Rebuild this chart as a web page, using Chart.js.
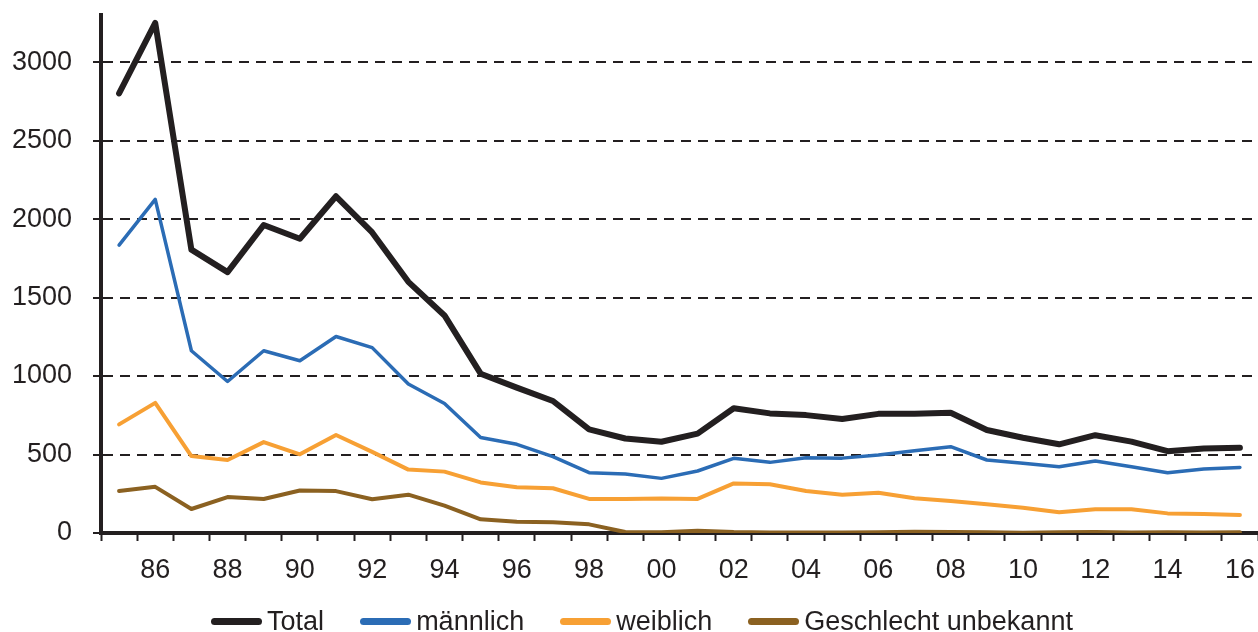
<!DOCTYPE html>
<html>
<head>
<meta charset="utf-8">
<script src="https://cdn.jsdelivr.net/npm/chart.js@4/dist/chart.umd.min.js"></script>
<style>
  html, body { margin: 0; padding: 0; background: #fff; }
  #wrap { position: relative; width: 1258px; height: 632px; overflow: hidden; }
  canvas { display: block; }
  #legend {
    position: absolute; left: 0; top: 605px; width: 1258px; height: 32px;
    box-sizing: border-box; padding-left: 26px;
    display: flex; justify-content: center; align-items: center;
    font-family: "Liberation Sans", Arial, sans-serif; font-size: 27px; line-height: 32px;
    color: #231f20; white-space: nowrap;
  }
  #legend .item { display: flex; align-items: center; margin: 0 18px; }
  #legend .swatch { width: 51px; height: 7px; border-radius: 4px; margin-right: 5px; }
</style>
</head>
<body>
<div id="wrap">
  <canvas id="chartId" width="1258" height="632"></canvas>
  <div id="legend"></div>
</div>
<script>
// years 1985 - 2016 (two-digit labels)
const years = ['85', '86', '87', '88', '89', '90', '91', '92', '93', '94', '95', '96', '97', '98', '99',
    '00', '01', '02', '03', '04', '05', '06', '07', '08', '09', '10', '11', '12', '13', '14', '15', '16'];

const total = [2800, 3250, 1805, 1662, 1962, 1875, 2145, 1915, 1600, 1386, 1015, 926, 841, 660, 602,
    581, 633, 795, 762, 751, 726, 759, 759, 766, 656, 607, 565, 623, 582, 521, 539, 543];
const maennlich = [1834, 2125, 1161, 965, 1161, 1097, 1252, 1181, 949, 825, 608, 565, 486, 384, 376,
    348, 395, 476, 450, 480, 477, 497, 524, 550, 465, 444, 422, 459, 422, 384, 408, 418];
const weiblich = [692, 829, 490, 465, 579, 501, 624, 517, 404, 391, 322, 291, 285, 217, 217,
    220, 217, 316, 310, 268, 244, 257, 221, 204, 183, 161, 132, 151, 151, 125, 121, 115];
const unbekannt = [267, 294, 153, 229, 217, 271, 267, 215, 244, 174, 87, 72, 68, 55, 6,
    5, 15, 6, 3, 3, 3, 5, 8, 7, 4, 2, 4, 6, 3, 4, 3, 4];

const yTicks = [0, 500, 1000, 1500, 2000, 2500, 3000];
const yMax = 3300;

const ink = '#231f20';
const font = { family: '"Liberation Sans", Arial, sans-serif', size: 27 };

function line(label, data, color, width) {
    return {
        label: label,
        data: data,
        borderColor: color,
        backgroundColor: color,
        borderWidth: width,
        borderCapStyle: 'round',
        borderJoinStyle: 'round',
        pointRadius: 0,
        tension: 0,
        fill: false
    };
}

const ctx = document.getElementById('chartId').getContext('2d');

const chart = new Chart(ctx, {
    type: 'line',
    data: {
        labels: years,
        datasets: [
            line('Total', total, ink, 6),
            line('männlich', maennlich, '#2b6cb5', 3.5),
            line('weiblich', weiblich, '#f7a034', 4),
            line('Geschlecht unbekannt', unbekannt, '#8b6121', 4)
        ]
    },
    options: {
        responsive: false,
        animation: false,
        layout: {
            padding: { left: 0, top: 15, right: 0, bottom: 49 }
        },
        plugins: {
            tooltip: { enabled: false },
            legend: { display: false }
        },
        scales: {
            x: {
                type: 'category',
                offset: true,
                afterFit(scale) {
                    scale.height = 50;
                    scale.paddingLeft = 0;
                    scale.paddingRight = 0;
                },
                grid: {
                    offset: true,
                    drawOnChartArea: false,
                    drawTicks: true,
                    tickLength: 8,
                    tickColor: ink,
                    tickWidth: 2
                },
                border: { display: true, color: ink, width: 4 },
                ticks: {
                    autoSkip: false,
                    maxRotation: 0,
                    minRotation: 0,
                    padding: 13,
                    color: ink,
                    font: font,
                    callback: (value, index) => index % 2 === 1 ? years[index] : ''
                }
            },
            y: {
                min: 0,
                max: yMax,
                afterFit(scale) {
                    scale.width = 101;
                    scale.paddingTop = 0;
                    scale.paddingBottom = 0;
                },
                afterBuildTicks(scale) {
                    scale.ticks = yTicks.map(v => ({ value: v }));
                },
                grid: {
                    color: ink,
                    lineWidth: 2,
                    drawTicks: true,
                    tickLength: 8,
                    tickColor: ink,
                    tickWidth: 2,
                    tickBorderDash: []
                },
                border: { display: true, color: ink, width: 4, dash: [10, 7] },
                ticks: {
                    padding: 21,
                    color: ink,
                    font: font,
                    callback: (value) => String(value)
                }
            }
        }
    }
});

// legend below the plot, built from the chart's datasets
const legendEl = document.getElementById('legend');
chart.data.datasets.forEach(ds => {
    const item = document.createElement('div');
    item.className = 'item';
    const sw = document.createElement('span');
    sw.className = 'swatch';
    sw.style.background = ds.borderColor;
    const txt = document.createElement('span');
    txt.textContent = ds.label;
    item.appendChild(sw);
    item.appendChild(txt);
    legendEl.appendChild(item);
});
</script>
</body>
</html>
